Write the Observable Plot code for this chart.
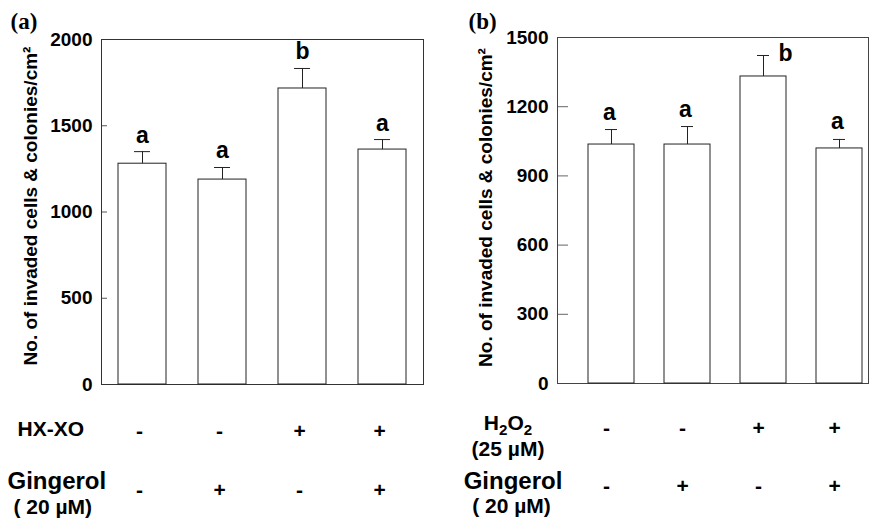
<!DOCTYPE html>
<html>
<head>
<meta charset="utf-8">
<script src="https://cdn.jsdelivr.net/npm/d3@7"></script>
<script src="https://cdn.jsdelivr.net/npm/@observablehq/plot@0.6"></script>
<style>
  html, body { margin: 0; padding: 0; background: #fff; }
  #wrap { display: flex; width: 870px; height: 527px; }
  #wrap svg { display: block; }
</style>
</head>
<body>
<div id="wrap"></div>
<script>
// ---- data ----
const groups = ["1", "2", "3", "4"];

// panel (a)
const valuesA = [1280, 1188, 1716, 1362];
const errorsA = [70, 70, 116, 58];
const lettersA = ["a", "a", "b", "a"];
const hxxoA = ["-", "-", "+", "+"];
const gingerolA = ["-", "+", "-", "+"];
const ticksA = [0, 500, 1000, 1500, 2000];

// panel (b)
const valuesB = [1036, 1036, 1331, 1019];
const errorsB = [65, 78, 91, 39];
const lettersB = ["a", "a", "b", "a"];
const h2o2B = ["-", "-", "+", "+"];
const gingerolB = ["-", "+", "-", "+"];
const ticksB = [0, 300, 600, 900, 1200, 1500];

const yLabel = "No. of invaded cells & colonies/cm²";
const sans = "'Liberation Sans', Arial, Helvetica, sans-serif";
const serif = "'Liberation Serif', 'Times New Roman', serif";

function rows(values, errors, letters, r1, r2) {
  return groups.map((g, i) => ({
    g, value: values[i], hi: values[i] + errors[i], letter: letters[i], r1: r1[i], r2: r2[i]
  }));
}
const dataA = rows(valuesA, errorsA, lettersA, hxxoA, gingerolA);
const dataB = rows(valuesB, errorsB, lettersB, h2o2B, gingerolB);

const common = {
  width: 435,
  height: 527,
  style: {fontFamily: sans, fontWeight: "bold", fontSize: "19px", color: "#000", background: "#fff", overflow: "visible"}
};
const T = {fontWeight: "bold", fill: "#000"};

// ---- panel (a) ----
const plotA = Plot.plot({
  ...common,
  marginLeft: 101, marginRight: 12, marginTop: 39, marginBottom: 143,
  x: {domain: groups, paddingInner: 0.4, paddingOuter: 0.2, axis: null},
  y: {domain: [0, 2000], axis: null},
  marks: [
    Plot.tickY(ticksA.slice(1, -1), {y: d => d, stroke: "#555", insetRight: 322 - 6}),
    Plot.text(ticksA, {y: d => d, text: d => String(d), frameAnchor: "left", textAnchor: "end", lineAnchor: "middle", dx: -9, fontSize: 19, ...T}),
    Plot.frame({stroke: "#333"}),
    Plot.barY(dataA, {x: "g", y: "value", fill: "white", stroke: "#222", strokeWidth: 1}),
    Plot.ruleX(dataA, {x: "g", y1: "value", y2: "hi", stroke: "#222"}),
    Plot.tickY(dataA, {x: "g", y: "hi", stroke: "#222", insetLeft: 16, insetRight: 16}),
    Plot.text(dataA, {x: "g", y: "hi", text: "letter", lineAnchor: "bottom", dy: -9, fontSize: 23, ...T}),
    Plot.text([yLabel], {text: d => d, frameAnchor: "left", textAnchor: "middle", lineAnchor: "middle", rotate: -90, dx: -71, dy: -6, fontSize: 19, ...T}),
    Plot.text(["(a)"], {text: d => d, frameAnchor: "top-left", textAnchor: "start", lineAnchor: "bottom", dx: -91, dy: -11, fontSize: 23, fontFamily: serif, ...T}),
    // treatment table
    Plot.text(["HX-XO"], {text: d => d, frameAnchor: "bottom-left", textAnchor: "start", lineAnchor: "bottom", dx: -84, dy: 51, fontSize: 21, ...T}),
    Plot.text(["Gingerol"], {text: d => d, frameAnchor: "bottom-left", textAnchor: "start", lineAnchor: "bottom", dx: -94, dy: 104, fontSize: 24, ...T}),
    Plot.text(["( 20 µM)"], {text: d => d, frameAnchor: "bottom-left", textAnchor: "start", lineAnchor: "bottom", dx: -88, dy: 129.5, fontSize: 21, ...T}),
    Plot.text(dataA, {x: "g", text: "r1", frameAnchor: "bottom", lineAnchor: "bottom", dx: -3, dy: 53, fontSize: 21, ...T}),
    Plot.text(dataA, {x: "g", text: "r2", frameAnchor: "bottom", lineAnchor: "bottom", dx: -3, dy: 112, fontSize: 21, ...T})
  ]
});

// ---- panel (b) ----
const plotB = Plot.plot({
  ...common,
  marginLeft: 122, marginRight: 2, marginTop: 37, marginBottom: 144,
  x: {domain: groups, range: [136, 443], paddingInner: 0.4, paddingOuter: 0.2, axis: null},
  y: {domain: [0, 1500], axis: null},
  marks: [
    Plot.tickY(ticksB.slice(1, -1), {y: d => d, stroke: "#666", insetRight: 311 - 11}),
    Plot.text(ticksB, {y: d => d, text: d => String(d), frameAnchor: "left", textAnchor: "end", lineAnchor: "middle", dx: -9, fontSize: 19, ...T}),
    Plot.frame({stroke: "#444"}),
    Plot.barY(dataB, {x: "g", y: "value", fill: "white", stroke: "#222", strokeWidth: 1}),
    Plot.ruleX(dataB, {x: "g", y1: "value", y2: "hi", stroke: "#222"}),
    Plot.tickY(dataB, {x: "g", y: "hi", stroke: "#222", insetLeft: 17, insetRight: 17}),
    Plot.text(dataB, {filter: d => d.letter === "a", x: "g", y: "hi", text: "letter", lineAnchor: "bottom", dx: -2, dy: -10, fontSize: 23, ...T}),
    Plot.text(dataB, {filter: d => d.letter === "b", x: "g", y: "hi", text: "letter", lineAnchor: "bottom", dx: 22, dy: 6, fontSize: 23, ...T}),
    Plot.text([yLabel], {text: d => d, frameAnchor: "left", textAnchor: "middle", lineAnchor: "middle", rotate: -90, dx: -72, dy: -3, fontSize: 19, ...T}),
    Plot.text(["(b)"], {text: d => d, frameAnchor: "top-left", textAnchor: "start", lineAnchor: "bottom", dx: -89, dy: -9, fontSize: 23, fontFamily: serif, ...T}),
    // treatment table
    Plot.text(["H₂O₂"], {text: d => d, frameAnchor: "bottom-left", textAnchor: "middle", lineAnchor: "bottom", dx: -49.5, dy: 46, fontSize: 21, ...T}),
    Plot.text(["(25 µM)"], {text: d => d, frameAnchor: "bottom-left", textAnchor: "middle", lineAnchor: "bottom", dx: -49.5, dy: 72, fontSize: 21, ...T}),
    Plot.text(["Gingerol"], {text: d => d, frameAnchor: "bottom-left", textAnchor: "middle", lineAnchor: "bottom", dx: -44.5, dy: 105, fontSize: 24, ...T}),
    Plot.text(["( 20 µM)"], {text: d => d, frameAnchor: "bottom-left", textAnchor: "middle", lineAnchor: "bottom", dx: -46, dy: 129, fontSize: 21, ...T}),
    Plot.text(dataB, {x: "g", text: "r1", frameAnchor: "bottom", lineAnchor: "bottom", dx: -5, dy: 51, fontSize: 21, ...T}),
    Plot.text(dataB, {x: "g", text: "r2", frameAnchor: "bottom", lineAnchor: "bottom", dx: -5, dy: 109, fontSize: 21, ...T})
  ]
});

// render H₂O₂ with real subscripts (tspans) in the sans font
const SVGNS = "http://www.w3.org/2000/svg";
plotB.querySelectorAll("text").forEach(t => {
  if (t.textContent === "H₂O₂") {
    t.textContent = "";
    const parts = [["H", 0, null], ["2", 5, "72%"], ["O", -5, null], ["2", 5, "72%"]];
    for (const [s, dy, size] of parts) {
      const sp = document.createElementNS(SVGNS, "tspan");
      sp.textContent = s;
      if (dy) sp.setAttribute("dy", dy);
      if (size) sp.setAttribute("font-size", size);
      t.appendChild(sp);
    }
  }
});

const wrap = document.getElementById("wrap");
wrap.appendChild(plotA);
wrap.appendChild(plotB);
</script>
</body>
</html>
